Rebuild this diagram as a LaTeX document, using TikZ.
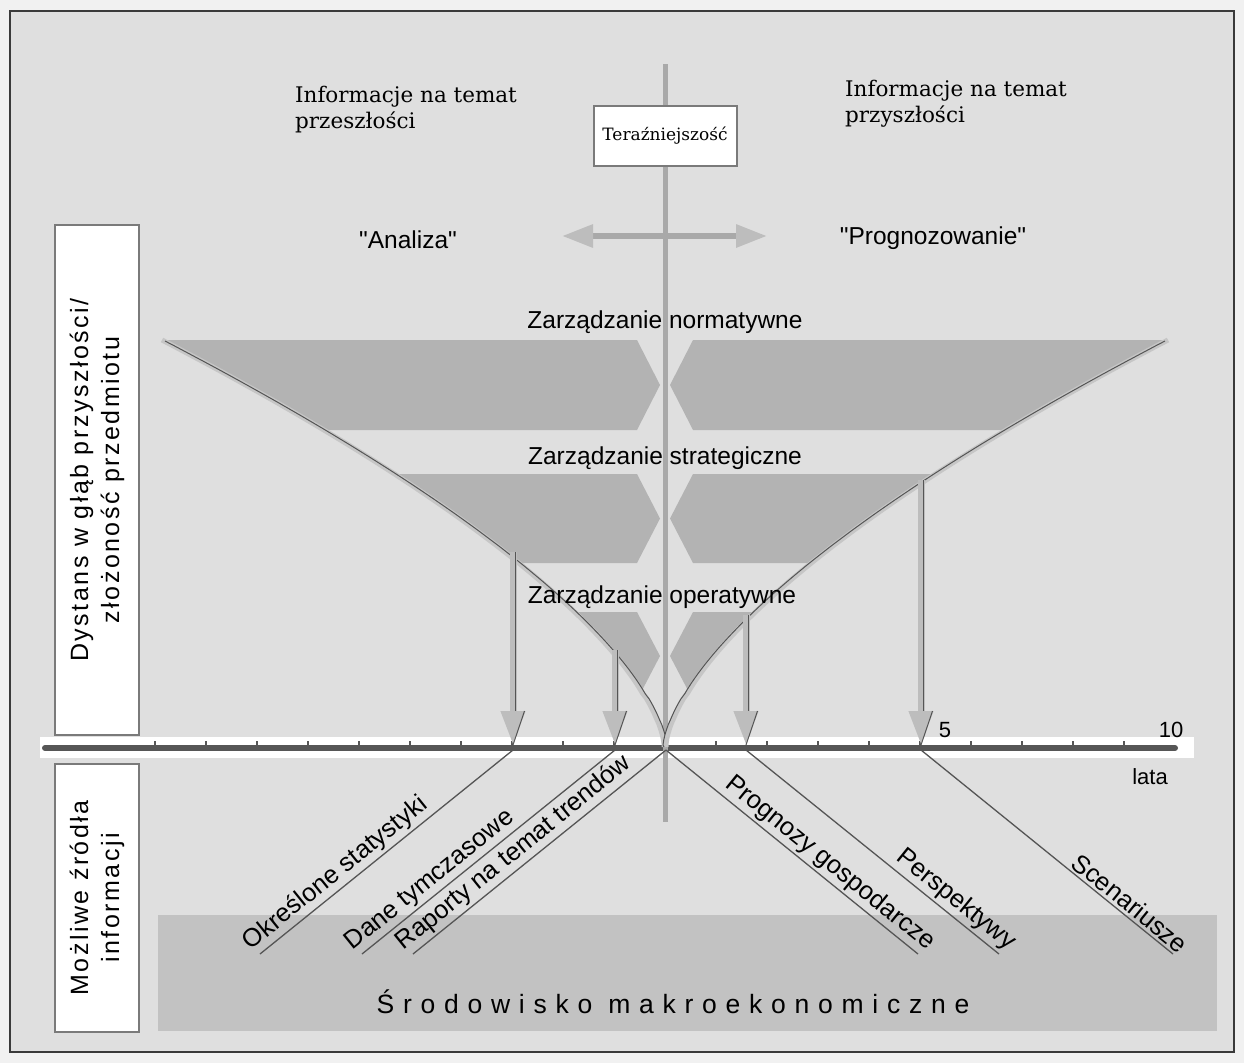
\documentclass[tikz,border=0pt]{standalone}
\usepackage{fontspec}
\setmainfont{DejaVu Serif}
\setsansfont{Liberation Sans}
\newfontfamily\plainsans{Liberation Sans}
\newfontfamily\tracksans[LetterSpace=10]{Liberation Sans}
\newfontfamily\widesans[LetterSpace=33]{Liberation Sans}
\usetikzlibrary{arrows.meta}

\definecolor{paper}{HTML}{F1F1F1}
\definecolor{panel}{HTML}{DFDFDF}
\definecolor{frameink}{HTML}{3A3A3A}
\definecolor{bandgray}{HTML}{B3B3B3}
\definecolor{envgray}{HTML}{C2C2C2}
\definecolor{postgray}{HTML}{A9A9A9}
\definecolor{tipgray}{HTML}{BDBDBD}
\definecolor{curvelight}{HTML}{C6C6C6}
\definecolor{inkgray}{HTML}{555555}
\definecolor{boxedge}{HTML}{7A7A7A}
\definecolor{axisink}{HTML}{565656}

\tikzset{
  sanslbl/.style={font=\plainsans\fontsize{24.5}{28}\selectfont, inner sep=0pt},
  seriflbl/.style={font=\fontsize{21.5}{26}\selectfont, inner sep=0pt, align=left, anchor=north west},
  sidebox/.style={draw=boxedge, line width=2pt, fill=white, align=center, inner sep=0pt,
    font=\tracksans\fontsize{25}{31}\selectfont, rotate=90},
  nowbox/.style={draw=boxedge, line width=2pt, fill=white, minimum width=143pt,
    minimum height=60pt, inner sep=0pt, font=\fontsize{17}{20}\selectfont},
  post/.style={draw=postgray, line width=5pt},
  twoway/.style={draw=postgray, line width=6pt,
    {Triangle[length=31pt,width=22pt,color=tipgray]}-{Triangle[length=31pt,width=22pt,color=tipgray]}},
  band/.style={fill=bandgray},
  curvebody/.style={draw=curvelight, line width=5pt},
  curveedge/.style={draw=inkgray, line width=1pt},
  downarrow/.style={draw=tipgray, line width=7pt, -{Triangle[length=34pt,width=23pt]}},
  arrowedge/.style={draw=inkgray, line width=1pt},
  srcline/.style={draw=inkgray, line width=1.3pt},
  srclbl/.style={font=\plainsans\fontsize{25.5}{29}\selectfont, inner sep=2.5pt},
  ticklbl/.style={font=\plainsans\fontsize{22}{26}\selectfont, inner sep=0pt},
  tickmark/.style={draw=axisink, line width=1.6pt},
}

\begin{document}
\begin{tikzpicture}[x=1pt,y=-1pt]
\useasboundingbox (0,0) rectangle (1244,1063);
\fill[paper] (0,0) rectangle (1244,1063);
\filldraw[fill=panel, draw=frameink, line width=1.5pt] (10,11) rectangle (1234,1052);

% macro-economic environment strip
\fill[envgray] (158,915) rectangle (1217,1031);
\node[font=\widesans\fontsize{26.5}{30}\selectfont, inner sep=0pt] (env) at (673,1002) {Środowisko makroekonomiczne};

% management bands inside the funnel
\begin{scope}
  \clip plot[domain=405:1,samples=80] ({665-502*pow(\x/405,1.55)},{745-\x}) -- (665,745)
        -- plot[domain=1:405,samples=80] ({665+502*pow(\x/405,1.55)},{745-\x}) -- cycle;
  \foreach \t/\b in {340/430,474/563,612/700}{
    \pgfmathsetmacro\m{(\t+\b)/2}
    \fill[band] (0,\t) -- (637,\t) -- (660,\m) -- (637,\b) -- (0,\b) -- cycle;
    \fill[band] (1244,\t) -- (693,\t) -- (670,\m) -- (693,\b) -- (1244,\b) -- cycle;
  }
\end{scope}

% time axis
\fill[white] (40,737) rectangle (1194,758);
\coordinate (axL) at (45,748);
\coordinate (axR) at (1175,748);
\draw[draw=axisink, line width=6pt, line cap=round] (axL) -- (axR);
\foreach \k in {1,...,10} \draw[tickmark] (665-51*\k,745) -- ++(0,-4);
\foreach \k in {1,...,9} \draw[tickmark] (665+51*\k,745) -- ++(0,-4);

% present post
\coordinate (postT) at (665,64);
\coordinate (postB) at (665,822);
\draw[post] (postT) -- (postB);

% funnel curves
\draw[curvebody] plot[domain=405:1,samples=80] ({664-502*pow(\x/405,1.55)},{745-\x}) -- (664,747);
\draw[curveedge] plot[domain=405:1,samples=80] ({667-502*pow(\x/405,1.55)},{746-\x}) -- (666,747);
\draw[curvebody] plot[domain=405:1,samples=80] ({666+502*pow(\x/405,1.55)},{745-\x}) -- (666,747);
\draw[curveedge] plot[domain=405:1,samples=80] ({663+502*pow(\x/405,1.55)},{746-\x}) -- (664,747);

% arrows from the management levels to the axis
\coordinate (arrS1) at (513,552); \coordinate (arrT1) at (513,745);
\coordinate (arrS2) at (615,650); \coordinate (arrT2) at (615,745);
\coordinate (arrS3) at (746,615); \coordinate (arrT3) at (746,745);
\coordinate (arrS4) at (921,480); \coordinate (arrT4) at (921,745);
\foreach \n in {1,...,4}{
  \draw[downarrow] (arrS\n) -- (arrT\n);
  \draw[arrowedge] ([xshift=2pt]arrS\n) -- ([xshift=2pt,yshift=34pt]arrT\n);
  \draw[arrowedge] ([xshift=11.5pt,yshift=34pt]arrT\n) -- (arrT\n);
}

% information sources
\coordinate (src1) at (513,750); \coordinate (end1) at (260,954);
\coordinate (src2) at (615,750); \coordinate (end2) at (362,954);
\coordinate (src3) at (666,750); \coordinate (end3) at (413,954);
\coordinate (src4) at (666,750); \coordinate (end4) at (918,954);
\coordinate (src5) at (746,750); \coordinate (end5) at (999,954);
\coordinate (src6) at (921,750); \coordinate (end6) at (1173,954);
\draw[srcline] (src1) -- (end1) node[srclbl, pos=1, sloped, anchor=south west, xshift=-8pt] (lblA) {Określone statystyki};
\draw[srcline] (src2) -- (end2) node[srclbl, pos=1, sloped, anchor=south west, xshift=-8pt] (lblB) {Dane tymczasowe};
\draw[srcline] (src3) -- (end3) node[srclbl, pos=1, sloped, anchor=south west, xshift=-8pt] (lblC) {Raporty na temat trendów};
\draw[srcline] (src4) -- (end4) node[srclbl, pos=1, sloped, anchor=south east, xshift=8pt] (lblD) {Prognozy gospodarcze};
\draw[srcline] (src5) -- (end5) node[srclbl, pos=1, sloped, anchor=south east, xshift=8pt] (lblE) {Perspektywy};
\draw[srcline] (src6) -- (end6) node[srclbl, pos=1, sloped, anchor=south east, xshift=8pt] (lblF) {Scenariusze};

% axis labels
\node[ticklbl] (five) at (945,730) {5};
\node[ticklbl] (ten) at (1171,730) {10};
\node[ticklbl] (years) at (1150,777) {lata};

% side captions
\node[sidebox, minimum width=510pt, minimum height=84pt] (depth) at (97,480)
  {Dystans w głąb przyszłości/\\złożoność przedmiotu};
\node[sidebox, minimum width=268pt, minimum height=84pt] (sources) at (97,898)
  {Możliwe źródła\\informacji};

% present, analysis and forecasting
\coordinate (toL) at (562,236);
\coordinate (toR) at (767,236);
\draw[twoway] (toL) -- (toR);
\node[nowbox] (now) at (665,136) {Teraźniejszość};
\node[seriflbl] (past) at (295,86) {Informacje na temat\\przeszłości};
\node[seriflbl] (future) at (845,80) {Informacje na temat\\przyszłości};
\node[sanslbl] (analysis) at (408,240) {"Analiza"};
\node[sanslbl] (forecast) at (933,238) {"Prognozowanie"};
\node[sanslbl] (norm) at (665,322) {Zarządzanie normatywne};
\node[sanslbl] (strat) at (665,458) {Zarządzanie strategiczne};
\node[sanslbl] (oper) at (662,597) {Zarządzanie operatywne};
\end{tikzpicture}
\end{document}
